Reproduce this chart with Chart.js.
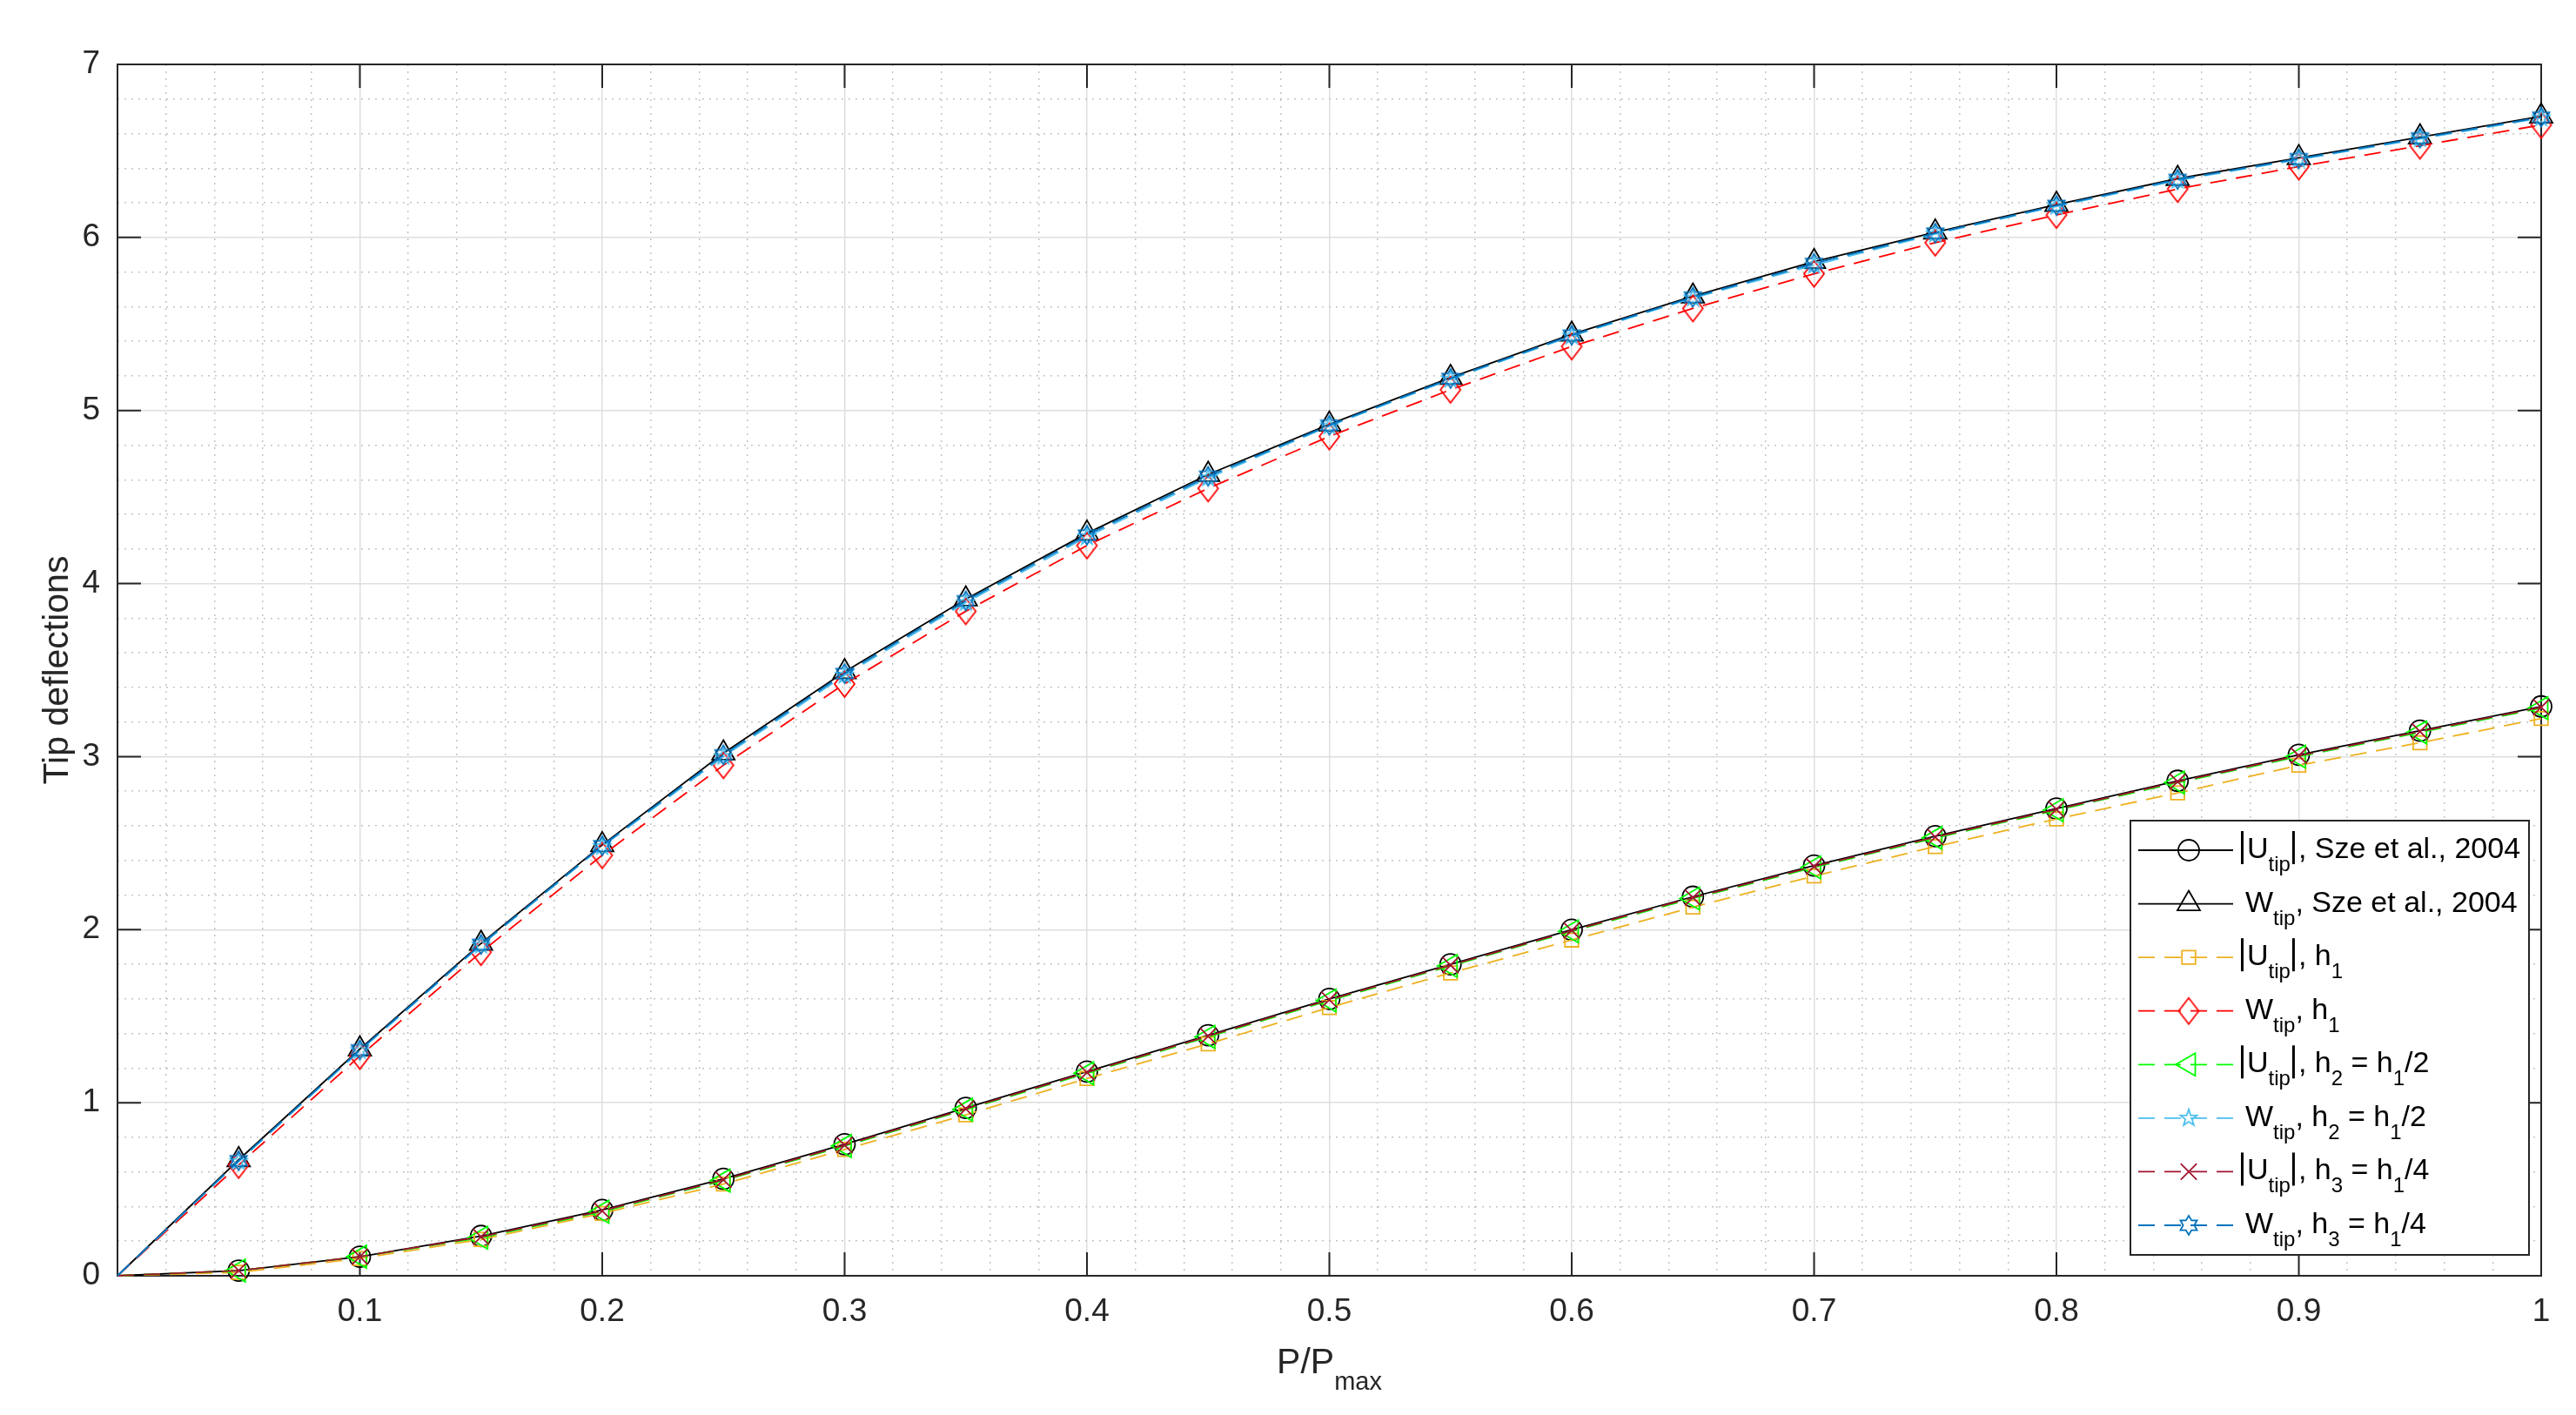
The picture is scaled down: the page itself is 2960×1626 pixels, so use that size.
<!DOCTYPE html>
<html>
<head>
<meta charset="utf-8">
<title>Tip deflections</title>
<script src="https://cdn.jsdelivr.net/npm/chart.js@4.4.1/dist/chart.umd.min.js"></script>
<style>
  html, body { margin: 0; padding: 0; background: #fff; }
  canvas { display: block; }
</style>
</head>
<body>
<canvas id="chart" width="2960" height="1626"></canvas>
<script>
const loadRatio = [0, 0.05, 0.1, 0.15, 0.2, 0.25, 0.3, 0.35, 0.4, 0.45, 0.5,
                   0.55, 0.6, 0.65, 0.7, 0.75, 0.8, 0.85, 0.9, 0.95, 1];

const uSze = [0, 0.03, 0.11, 0.23, 0.38, 0.56, 0.76, 0.97, 1.18, 1.39, 1.60,
              1.80, 2.00, 2.19, 2.37, 2.54, 2.70, 2.86, 3.01, 3.15, 3.29];
const wSze = [0, 0.67, 1.31, 1.92, 2.49, 3.02, 3.49, 3.91, 4.29, 4.63, 4.92,
              5.19, 5.44, 5.66, 5.86, 6.03, 6.19, 6.34, 6.46, 6.58, 6.70];
const uH1 = [0, 0.02, 0.10, 0.21, 0.36, 0.53, 0.73, 0.93, 1.14, 1.34, 1.55,
             1.75, 1.94, 2.13, 2.31, 2.48, 2.64, 2.79, 2.95, 3.08, 3.22];
const wH1 = [0, 0.64, 1.27, 1.87, 2.43, 2.95, 3.42, 3.84, 4.22, 4.55, 4.85,
             5.12, 5.37, 5.59, 5.79, 5.97, 6.13, 6.28, 6.41, 6.53, 6.65];
const uH2 = [0, 0.03, 0.11, 0.22, 0.37, 0.55, 0.75, 0.96, 1.17, 1.38, 1.59,
             1.79, 1.99, 2.18, 2.36, 2.53, 2.69, 2.85, 3.00, 3.14, 3.28];
const wH2 = [0, 0.66, 1.30, 1.91, 2.48, 3.00, 3.47, 3.89, 4.27, 4.61, 4.91,
             5.18, 5.43, 5.65, 5.84, 6.02, 6.18, 6.33, 6.45, 6.57, 6.69];
const uH3 = [0, 0.03, 0.11, 0.225, 0.375, 0.555, 0.755, 0.965, 1.175, 1.385, 1.595,
             1.795, 1.995, 2.185, 2.365, 2.535, 2.695, 2.855, 3.005, 3.145, 3.285];
const wH3 = [0, 0.665, 1.305, 1.915, 2.485, 3.01, 3.48, 3.90, 4.28, 4.62, 4.915,
             5.185, 5.435, 5.655, 5.85, 6.025, 6.185, 6.335, 6.455, 6.575, 6.695];

// legend entries: '|' = tall bar, '_x' = subscript
const legendRows = [
  ['|', 'U', '_tip', '|', ', Sze et al., 2004'],
  ['W', '_tip', ', Sze et al., 2004'],
  ['|', 'U', '_tip', '|', ', h', '_1'],
  ['W', '_tip', ', h', '_1'],
  ['|', 'U', '_tip', '|', ', h', '_2', ' = h', '_1', '/2'],
  ['W', '_tip', ', h', '_2', ' = h', '_1', '/2'],
  ['|', 'U', '_tip', '|', ', h', '_3', ' = h', '_1', '/4'],
  ['W', '_tip', ', h', '_3', ' = h', '_1', '/4']
];
const xTitle = ['P/P', '_max'];
const yTitle = 'Tip deflections';

const FONT = "'Liberation Sans', Arial, Helvetica, sans-serif";
const INK = '#262626';
const TICK_LEN = 27;

function starMarker(points, outer, inner, color, lw) {
  const size = Math.ceil(2 * outer + 2 * lw + 2);
  const c = document.createElement('canvas');
  c.width = size; c.height = size;
  const g = c.getContext('2d');
  g.strokeStyle = color; g.lineWidth = lw;
  g.beginPath();
  for (let i = 0; i < points * 2; i++) {
    const r = i % 2 === 0 ? outer : inner;
    const a = -Math.PI / 2 + i * Math.PI / points;
    const px = size / 2 + r * Math.cos(a), py = size / 2 + r * Math.sin(a);
    if (i === 0) g.moveTo(px, py); else g.lineTo(px, py);
  }
  g.closePath();
  g.stroke();
  return c;
}

function diamondMarker(w, h, color, lw) {
  const cw = Math.ceil(w + 2 * lw + 2), ch = Math.ceil(h + 2 * lw + 2);
  const c = document.createElement('canvas');
  c.width = cw; c.height = ch;
  const g = c.getContext('2d');
  g.strokeStyle = color; g.lineWidth = lw;
  g.beginPath();
  g.moveTo(cw / 2, ch / 2 - h / 2);
  g.lineTo(cw / 2 + w / 2, ch / 2);
  g.lineTo(cw / 2, ch / 2 + h / 2);
  g.lineTo(cw / 2 - w / 2, ch / 2);
  g.closePath();
  g.stroke();
  return c;
}

const DASH = [19, 11];

function series(label, values, color, style, radius, dashed, rotation) {
  return {
    label: label,
    data: loadRatio.map((x, i) => ({ x: x, y: values[i] })),
    borderColor: color,
    backgroundColor: 'rgba(0,0,0,0)',
    borderWidth: 1.8,
    borderDash: dashed ? DASH : [],
    pointStyle: style,
    pointRadius: values.map((v, i) => i === 0 ? 0 : radius),
    pointBorderColor: color,
    pointBackgroundColor: 'rgba(0,0,0,0)',
    pointBorderWidth: 1.8,
    pointRotation: rotation || 0,
    tension: 0,
    clip: false
  };
}

const datasets = [
  series('|Utip|, Sze et al., 2004', uSze, '#000000', 'circle', 12, false),
  series('Wtip, Sze et al., 2004', wSze, '#000000', 'triangle', 15, false),
  series('|Utip|, h1', uH1, '#EDB120', 'rect', 11, true),
  series('Wtip, h1', wH1, '#FF0000', diamondMarker(23, 30, '#FF0000', 1.8), 13, true),
  series('|Utip|, h2 = h1/2', uH2, '#00FF00', 'triangle', 15, true, -90),
  series('Wtip, h2 = h1/2', wH2, '#4DBEEE', starMarker(5, 10, 4, '#4DBEEE', 1.8), 10, true),
  series('|Utip|, h3 = h1/4', uH3, '#A2142F', 'crossRot', 13, true),
  series('Wtip, h3 = h1/4', wH3, '#0072BD', starMarker(6, 11, 6.4, '#0072BD', 1.8), 11, true)
];
// later series painted on top, as in the original
datasets.forEach((d, i) => { d.order = datasets.length - i; });

function isMultiple(v, perUnit) {
  return Math.abs(v * perUnit - Math.round(v * perUnit)) < 1e-6;
}

function drawRich(ctx, segs, x, baseline, size, subSize, subDrop, barTop, barH) {
  ctx.textAlign = 'left';
  ctx.textBaseline = 'alphabetic';
  segs.forEach(seg => {
    if (seg === '|') {
      x += 2;
      ctx.fillRect(x, barTop, 3, barH);
      x += 7;
      return;
    }
    const sub = seg.charAt(0) === '_';
    const t = sub ? seg.slice(1) : seg;
    ctx.font = (sub ? subSize : size) + 'px ' + FONT;
    ctx.fillText(t, x, sub ? baseline + subDrop : baseline);
    x += ctx.measureText(t).width;
  });
  return x;
}

function richWidth(ctx, segs, size, subSize) {
  let w = 0;
  segs.forEach(seg => {
    if (seg === '|') { w += 9; return; }
    const sub = seg.charAt(0) === '_';
    const t = sub ? seg.slice(1) : seg;
    ctx.font = (sub ? subSize : size) + 'px ' + FONT;
    w += ctx.measureText(t).width;
  });
  return w;
}

const framePlugin = {
  id: 'frame',
  beforeDatasetsDraw(chart) {
    const { ctx, chartArea: a, scales } = chart;
    ctx.save();
    ctx.strokeStyle = INK;
    ctx.lineWidth = 2;
    ctx.beginPath();
    scales.x.ticks.forEach(t => {
      const px = scales.x.getPixelForValue(t.value);
      ctx.moveTo(px, a.bottom); ctx.lineTo(px, a.bottom - TICK_LEN);
      ctx.moveTo(px, a.top); ctx.lineTo(px, a.top + TICK_LEN);
    });
    scales.y.ticks.forEach(t => {
      const py = scales.y.getPixelForValue(t.value);
      ctx.moveTo(a.left, py); ctx.lineTo(a.left + TICK_LEN, py);
      ctx.moveTo(a.right, py); ctx.lineTo(a.right - TICK_LEN, py);
    });
    ctx.stroke();
    ctx.strokeRect(a.left, a.top, a.right - a.left, a.bottom - a.top);
    ctx.restore();
  },
  afterDraw(chart) {
    const { ctx, chartArea: a } = chart;
    ctx.save();
    ctx.fillStyle = INK;

    // axis titles
    const xw = richWidth(ctx, xTitle, 41, 29);
    drawRich(ctx, xTitle, (a.left + a.right) / 2 - xw / 2, 1578, 41, 29, 19, 0, 0);
    ctx.save();
    ctx.translate(78, (a.top + a.bottom) / 2);
    ctx.rotate(-Math.PI / 2);
    ctx.font = '41px ' + FONT;
    ctx.textAlign = 'center';
    ctx.textBaseline = 'alphabetic';
    ctx.fillText(yTitle, 0, 0);
    ctx.restore();

    // legend
    const box = { left: 2448, top: 943, right: 2906, bottom: 1442 };
    ctx.fillStyle = '#ffffff';
    ctx.fillRect(box.left, box.top, box.right - box.left, box.bottom - box.top);
    ctx.strokeStyle = INK;
    ctx.lineWidth = 2;
    ctx.strokeRect(box.left, box.top, box.right - box.left, box.bottom - box.top);

    const rowStep = (1408 - 977) / 7;
    chart.data.datasets.forEach((ds, i) => {
      const ly = 977 + i * rowStep;
      ctx.save();
      ctx.strokeStyle = ds.borderColor;
      ctx.lineWidth = ds.borderWidth;
      ctx.setLineDash(ds.borderDash);
      ctx.beginPath();
      ctx.moveTo(2457, ly);
      ctx.lineTo(2566, ly);
      ctx.stroke();
      ctx.setLineDash([]);
      ctx.fillStyle = 'rgba(0,0,0,0)';
      ctx.lineWidth = ds.pointBorderWidth;
      Chart.helpers.drawPoint(ctx, {
        pointStyle: ds.pointStyle,
        radius: ds.pointRadius[1],
        rotation: ds.pointRotation,
        borderWidth: ds.pointBorderWidth
      }, 2515, ly);
      ctx.restore();

      ctx.fillStyle = '#000000';
      const startX = legendRows[i][0] === '|' ? 2573 : 2580;
      drawRich(ctx, legendRows[i], startX, ly + 9, 34, 24, 15, ly - 22, 38);
    });
    ctx.restore();
  }
};

Chart.defaults.font.family = FONT;
Chart.defaults.color = INK;

new Chart(document.getElementById('chart'), {
  type: 'line',
  data: { datasets: datasets },
  options: {
    responsive: false,
    devicePixelRatio: 1,
    animation: false,
    events: [],
    layout: { padding: { left: 0, top: 74, right: 40, bottom: 0 } },
    plugins: {
      legend: { display: false },
      tooltip: { enabled: false }
    },
    scales: {
      x: {
        type: 'linear',
        position: 'bottom',
        min: 0, max: 1,
        ticks: {
          stepSize: 0.1,
          autoSkip: false,
          maxRotation: 0,
          padding: 20,
          font: { size: 37 },
          color: INK,
          callback: v => v === 0 ? '' : String(Number(v.toFixed(1)))
        },
        grid: { color: '#dedede', lineWidth: 1.5, drawTicks: false },
        border: { display: false },
        afterFit(s) { s.height = 160; }
      },
      x2: {
        type: 'linear',
        position: 'bottom',
        min: 0, max: 1,
        ticks: { display: false, stepSize: 0.02, autoSkip: false },
        grid: {
          drawTicks: false,
          lineWidth: 1.5,
          color: c => isMultiple(c.tick.value, 10) ? 'rgba(0,0,0,0)' : '#c4c4c4'
        },
        border: { display: false, dash: [2, 6] },
        afterFit(s) { s.height = 0; }
      },
      y: {
        type: 'linear',
        position: 'left',
        min: 0, max: 7,
        ticks: {
          stepSize: 1,
          padding: 20,
          font: { size: 37 },
          color: INK
        },
        grid: { color: '#dedede', lineWidth: 1.5, drawTicks: false },
        border: { display: false },
        afterFit(s) { s.width = 135; }
      },
      y2: {
        type: 'linear',
        position: 'left',
        min: 0, max: 7,
        ticks: { display: false, stepSize: 0.2, autoSkip: false },
        grid: {
          drawTicks: false,
          lineWidth: 1.5,
          color: c => isMultiple(c.tick.value, 1) ? 'rgba(0,0,0,0)' : '#c4c4c4'
        },
        border: { display: false, dash: [2, 6] },
        afterFit(s) { s.width = 0; }
      }
    }
  },
  plugins: [framePlugin]
});
</script>
</body>
</html>
